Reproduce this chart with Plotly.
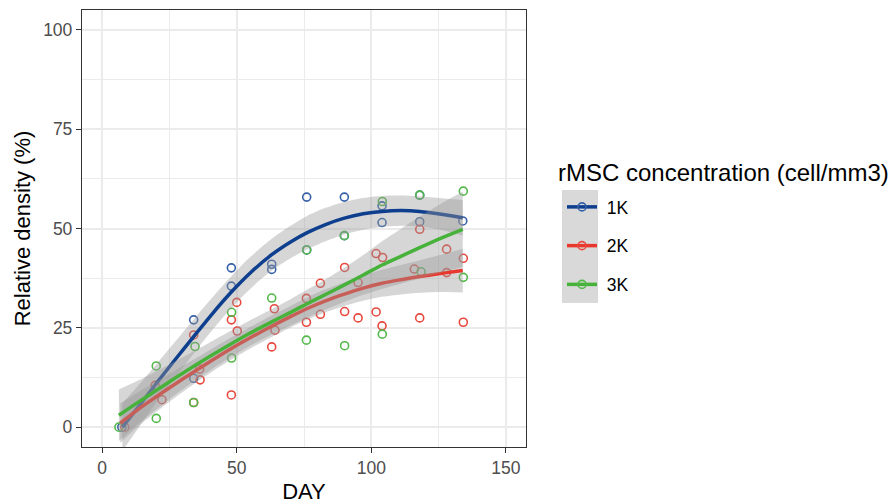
import plotly.graph_objects as go

# ---------------- data ----------------
groups = ["1K", "2K", "3K"]

day_1k = [7.3, 34, 34, 48, 48, 63, 63, 76, 76, 90, 90, 104, 104, 118, 118, 134]
val_1k = [0, 27.0, 12.3, 40.1, 35.5, 41.0, 39.7, 57.9, 44.6, 57.9, 48.2, 55.7, 51.5, 58.4, 51.7, 51.9]

day_2k = [8.4, 19.7, 22.2, 34, 34, 36.4, 36.2, 50, 48, 50.2, 48, 64, 64.2, 63, 75.9, 75.9,
          81.1, 81.1, 90.1, 90.1, 95.1, 95.1, 101.8, 101.8, 104.2, 104, 118, 116, 118,
          128, 128, 134.2, 134.2]
val_2k = [0, 10.5, 6.9, 23.2, 6.2, 11.9, 14.6, 31.4, 27.0, 24.2, 8.1, 29.8, 24.4, 20.2, 32.4, 26.4,
          36.2, 28.4, 40.2, 29.1, 36.4, 27.5, 43.7, 29.0, 42.7, 25.5, 49.8, 39.8, 27.5,
          44.8, 38.9, 42.5, 26.4]

day_3k = [6.2, 20.1, 20.1, 34.5, 34, 48.1, 48.1, 63, 75.9, 76, 90, 90.1, 104.1, 104.1,
          118, 118.5, 134.2, 134.2]
val_3k = [0, 15.4, 2.2, 20.3, 6.2, 28.9, 17.4, 32.5, 21.9, 44.6, 48.2, 20.5, 56.8, 23.4,
          58.4, 39.1, 59.4, 37.7]

# smoothed fits (loess) and confidence half-widths
fit_day_1k = [7.5, 14, 20, 27, 34, 41, 48, 55, 63, 70, 76, 83, 90, 97, 104, 111, 118, 126, 134]
fit_1k = [0, 5.6, 10.9, 16.9, 22.8, 28.6, 34.0, 38.8, 43.4, 46.6, 48.9, 51.0, 52.6, 53.7, 54.3, 54.5, 54.3, 53.6, 52.7]
se_1k = [6, 5.3, 4.8, 4.5, 4.3, 4.1, 4.0, 4.0, 4.0, 4.1, 4.2, 4.2, 4.1, 4.0, 3.9, 3.8, 3.8, 4.0, 4.5]

fit_day_2k = [6.7, 13, 20, 27, 34, 41, 48, 55, 63, 70, 76, 83, 90, 97, 104, 111, 118, 126, 134]
fit_2k = [1, 4.3, 7.6, 10.8, 13.9, 16.9, 19.8, 22.5, 25.4, 27.8, 29.8, 31.8, 33.5, 35, 36.2, 37.1, 37.9, 38.7, 39.4]
se_2k = [5, 4.3, 3.8, 3.4, 3.1, 2.9, 2.8, 2.7, 2.7, 2.7, 2.8, 2.9, 3.0, 3.2, 3.4, 3.7, 4.1, 4.7, 5.5]

fit_day_3k = [6.2, 13, 20, 27, 34, 41, 48, 55, 63, 70, 76, 83, 90, 97, 104, 111, 118, 126, 134]
fit_3k = [3, 6.1, 9.2, 12.3, 15.3, 18.2, 21, 23.7, 26.5, 28.9, 31, 33.4, 35.8, 38.3, 40.8, 43, 45.2, 47.6, 49.8]
se_3k = [6.5, 5.5, 4.8, 4.2, 3.8, 3.5, 3.3, 3.2, 3.2, 3.3, 3.5, 3.8, 4.3, 5.0, 6.0, 6.9, 7.8, 8.7, 9.5]

x_ticks = [0, 50, 100, 150]
y_ticks = [0, 25, 50, 75, 100]

# ---------------- styling ----------------
line_colors = {"1K": "#0E3F8F", "2K": "#E8382D", "3K": "#47B23A"}
point_colors = {"1K": "#3560A8", "2K": "#E8483E", "3K": "#52B848"}
band_fill = "rgba(153,153,153,0.4)"
FONT = "Liberation Sans, Arial, Helvetica, sans-serif"

points = {"1K": (day_1k, val_1k), "2K": (day_2k, val_2k), "3K": (day_3k, val_3k)}
fits = {"1K": (fit_day_1k, fit_1k, se_1k), "2K": (fit_day_2k, fit_2k, se_2k), "3K": (fit_day_3k, fit_3k, se_3k)}

fig = go.Figure()

for g in groups:
    d, v = points[g]
    fig.add_trace(go.Scatter(x=d, y=v, mode="markers", showlegend=False, hoverinfo="skip",
                             marker=dict(symbol="circle-open", size=8, color=point_colors[g],
                                         line=dict(width=1.6, color=point_colors[g]))))

for g in groups:
    d, f, s = fits[g]
    lo = [a - b for a, b in zip(f, s)]
    hi = [a + b for a, b in zip(f, s)]
    fig.add_trace(go.Scatter(x=d, y=lo, mode="lines", line=dict(width=0, shape="spline", smoothing=0.8),
                             showlegend=False, hoverinfo="skip"))
    fig.add_trace(go.Scatter(x=d, y=hi, mode="lines", line=dict(width=0, shape="spline", smoothing=0.8),
                             fill="tonexty", fillcolor=band_fill, showlegend=False, hoverinfo="skip"))
    fig.add_trace(go.Scatter(x=d, y=f, mode="lines",
                             line=dict(width=3.5, color=line_colors[g], shape="spline", smoothing=0.8),
                             showlegend=False, hoverinfo="skip"))

# legend entries
for g in groups:
    fig.add_trace(go.Scatter(x=[None], y=[None], mode="lines+markers", name="\u00a0" + g, legendgroup=g,
                             line=dict(width=3.5, color=line_colors[g]),
                             marker=dict(symbol="circle-open", size=8, color=point_colors[g],
                                         line=dict(width=1.6, color=point_colors[g]))))

W, H = 888, 504
L, R, T, B = 82, 362, 10, 57
pw, ph = W - L - R, H - T - B

def px_x(p):
    return (p - L) / pw

def px_y(p):
    return (H - B - p) / ph

fig.add_shape(type="rect", xref="paper", yref="paper",
              x0=px_x(562), x1=px_x(598), y0=px_y(303), y1=px_y(190),
              fillcolor="#D9D9D9", line=dict(width=0), layer="below")

fig.add_annotation(xref="paper", yref="paper", x=px_x(556), y=px_y(172),
                   xanchor="left", yanchor="middle", showarrow=False,
                   text="rMSC concentration (cell/mm3)",
                   font=dict(family=FONT, size=24, color="black"))

axis_common = dict(showline=True, mirror=True, linecolor="#333333", linewidth=1.3,
                   ticks="outside", ticklen=5, tickwidth=1.3, tickcolor="#333333",
                   showgrid=True, gridcolor="#EBEBEB", gridwidth=1.8, zeroline=False,
                   automargin=False,
                   tickfont=dict(family=FONT, size=17.5, color="#4D4D4D"))

fig.update_layout(
    width=W, height=H,
    margin=dict(l=L, r=R, t=T, b=B, autoexpand=False),
    plot_bgcolor="white", paper_bgcolor="white",
    font=dict(family=FONT, color="black"),
    xaxis=dict(range=[-7.5, 157.5], tickvals=x_ticks,
               minor=dict(dtick=25, tick0=0, showgrid=True, gridcolor="#EBEBEB", gridwidth=1.2, ticks=""),
               title=dict(text="DAY", font=dict(family=FONT, size=22, color="black"), standoff=7),
               **axis_common),
    yaxis=dict(range=[-5, 105], tickvals=y_ticks,
               minor=dict(dtick=12.5, tick0=0, showgrid=True, gridcolor="#EBEBEB", gridwidth=1.2, ticks=""),
               title=dict(text="Relative density (%)", font=dict(family=FONT, size=22, color="black"), standoff=6),
               **axis_common),
    legend=dict(x=px_x(562), y=px_y(189), xanchor="left", yanchor="top",
                font=dict(family=FONT, size=17.5, color="black"),
                bgcolor="rgba(0,0,0,0)", tracegroupgap=13, traceorder="grouped",
                itemwidth=30),
    showlegend=True,
)

fig.write_html("out.html")
